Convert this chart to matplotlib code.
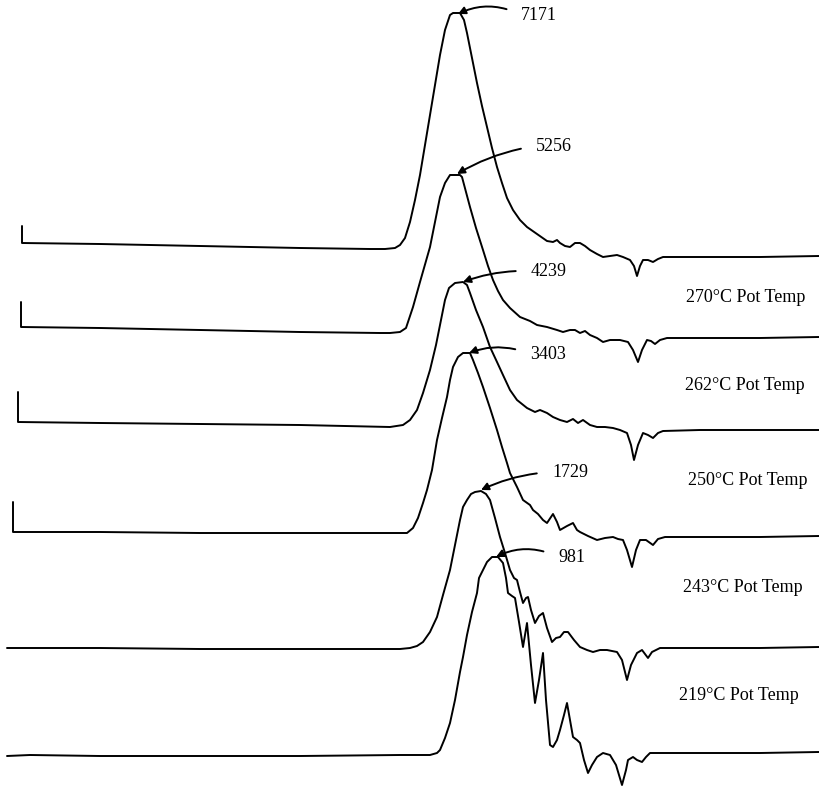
import matplotlib
matplotlib.use("Agg")
import matplotlib.pyplot as plt

plt.rcParams['font.family'] = ['Liberation Serif', 'DejaVu Serif']

# ---- traces (x, y in image-like units; y grows downward) ----
t1_x = [22, 22, 100, 200, 300, 370, 385, 395, 400, 405, 410, 415, 420, 425, 430, 435, 440, 445, 450, 453, 460, 464,
        467, 472, 477, 482, 487, 492, 497, 502, 507, 513, 520, 527, 537, 547, 553, 557, 560, 565, 570, 575, 580, 585,
        590, 597, 603, 610, 617, 623, 630, 634, 637, 640, 643, 648, 653, 658, 663, 700, 760, 819]
t1_y = [226, 243, 244, 246, 248, 249, 249, 248, 245, 238, 222, 200, 175, 145, 115, 85, 55, 30, 15, 13, 13, 20,
        33, 58, 83, 106, 127, 148, 167, 183, 198, 210, 220, 227, 234, 241, 242, 240, 243, 246, 247, 243, 243, 246,
        250, 254, 257, 256, 255, 257, 260, 266, 276, 266, 260, 260, 262, 259, 257, 257, 257, 256]

t2_x = [21, 21, 100, 200, 300, 380, 390, 400, 406, 413, 420, 430, 435, 440, 445, 450, 460, 462, 466, 470, 476, 483,
        488, 493, 498, 503, 510, 520, 530, 537, 547, 557, 563, 570, 575, 580, 585, 590, 597, 603, 610, 620, 628, 633,
        638, 642, 647, 651, 655, 660, 667, 700, 760, 819]
t2_y = [302, 327, 328, 330, 332, 333, 333, 332, 328, 307, 282, 247, 222, 197, 183, 175, 175, 177, 192, 207, 228, 250,
        266, 280, 291, 300, 308, 317, 321, 325, 327, 330, 332, 330, 330, 333, 331, 335, 338, 342, 340, 340, 342, 350,
        362, 350, 340, 341, 344, 340, 338, 338, 338, 337]

t3_x = [18, 18, 100, 200, 300, 390, 403, 410, 417, 423, 430, 436, 440, 445, 449, 455, 463, 467, 470, 476, 483, 490,
        497, 503, 510, 517, 527, 535, 540, 547, 553, 560, 567, 573, 578, 583, 590, 597, 605, 613, 620, 627, 631, 634,
        638, 643, 648, 653, 658, 663, 700, 760, 819]
t3_y = [392, 422, 423, 424, 425, 427, 425, 420, 410, 393, 370, 345, 325, 300, 288, 283, 282, 285, 293, 310, 327, 347,
        362, 375, 390, 400, 408, 412, 410, 413, 417, 420, 422, 419, 423, 420, 425, 427, 427, 428, 430, 433, 445, 460,
        445, 433, 435, 438, 433, 431, 430, 430, 430]

t4_x = [13, 13, 100, 200, 300, 400, 407, 413, 418, 423, 427, 432, 437, 442, 447, 450, 453, 458, 463, 470, 473, 478,
        483, 490, 497, 502, 507, 510, 517, 523, 530, 533, 538, 543, 547, 553, 557, 560, 567, 573, 577, 580, 588, 597,
        605, 613, 618, 623, 627, 632, 636, 640, 646, 653, 658, 665, 700, 760, 819]
t4_y = [502, 532, 532, 533, 533, 533, 533, 528, 518, 503, 490, 470, 440, 418, 397, 380, 367, 357, 353, 353, 360, 373,
        387, 408, 430, 447, 463, 473, 487, 500, 505, 510, 514, 520, 523, 514, 522, 530, 526, 523, 530, 532, 536, 540,
        538, 537, 539, 540, 550, 567, 550, 540, 540, 545, 539, 537, 537, 537, 536]

t5_x = [7, 100, 200, 300, 400, 410, 417, 423, 430, 437, 443, 450, 455, 460, 463, 467, 471, 475, 481, 486, 490, 495,
        500, 505, 510, 514, 517, 520, 523, 526, 528, 531, 535, 539, 543, 547, 552, 556, 560, 564, 568, 574, 580, 587,
        593, 600, 607, 612, 617, 622, 627, 631, 637, 642, 648, 652, 660, 700, 760, 819]
t5_y = [648, 648, 649, 649, 649, 648, 646, 642, 632, 617, 595, 570, 545, 520, 507, 500, 494, 492, 491, 494, 500, 518,
        537, 553, 570, 578, 580, 592, 603, 598, 597, 610, 623, 616, 613, 628, 642, 638, 637, 632, 632, 640, 647, 650,
        652, 650, 650, 651, 652, 660, 680, 665, 653, 650, 658, 652, 648, 648, 648, 647]

t6_x = [7, 30, 100, 200, 300, 400, 430, 437, 440, 445, 450, 455, 460, 463, 467, 472, 477, 479, 483, 487, 492, 498,
        503, 506, 508, 512, 515, 519, 523, 525, 527, 531, 535, 539, 543, 546, 550, 553, 557, 560, 564, 567, 570, 573,
        577, 580, 584, 588, 592, 597, 603, 610, 616, 622, 626, 628, 633, 637, 642, 646, 650, 700, 760, 819]
t6_y = [756, 755, 756, 756, 756, 755, 755, 753, 750, 738, 723, 700, 672, 657, 635, 612, 593, 578, 570, 562, 557, 557,
        563, 578, 593, 596, 598, 622, 647, 635, 623, 665, 703, 680, 653, 700, 745, 747, 740, 730, 715, 703, 720, 737,
        740, 743, 760, 773, 765, 757, 753, 755, 765, 785, 770, 760, 757, 760, 762, 757, 753, 753, 753, 752]

traces_x = [t1_x, t2_x, t3_x, t4_x, t5_x, t6_x]
traces_y = [t1_y, t2_y, t3_y, t4_y, t5_y, t6_y]

# ---- peak annotations ----
peak_labels = ['7171', '5256', '4239', '3403', '1729', '981']
peak_text_x = [521, 536, 531, 530, 552, 558]
peak_text_y = [15, 146, 271, 354, 472, 557]
peak_tip_x = [458, 457, 463, 469, 481, 496]
peak_tip_y = [14, 174, 282, 353, 490, 557]
peak_rad = [0.25, 0.1, 0.1, 0.2, 0.1, 0.25]

# ---- temperature labels ----
temp_labels = ['270°C Pot Temp', '262°C Pot Temp', '250°C Pot Temp', '243°C Pot Temp', '219°C Pot Temp']
temp_x = [746, 745, 748, 743, 739]
temp_y = [297, 385, 480, 588, 695]

fig = plt.figure(figsize=(8.19, 7.88), dpi=100)
ax = fig.add_axes([0, 0, 1, 1])
ax.set_xlim(0, 819)
ax.set_ylim(788, 0)
ax.axis('off')

for xs, ys in zip(traces_x, traces_y):
    ax.plot(xs, ys, color='black', lw=1.4, solid_joinstyle='round', solid_capstyle='round')

for lab, tx, ty, px, py, rad in zip(peak_labels, peak_text_x, peak_text_y, peak_tip_x, peak_tip_y, peak_rad):
    ax.annotate(lab, xy=(px, py), xytext=(tx, ty), fontsize=13, ha='left', va='center',
                arrowprops=dict(arrowstyle='-|>', color='black', lw=1.4, shrinkA=9, shrinkB=0,
                                mutation_scale=11,
                                connectionstyle=f'arc3,rad={rad}',
                                relpos=(0, 0.5)))

for lab, tx, ty in zip(temp_labels, temp_x, temp_y):
    ax.text(tx, ty, lab, fontsize=13, ha='center', va='center')

fig.savefig('out.png', dpi=100, facecolor='white')
